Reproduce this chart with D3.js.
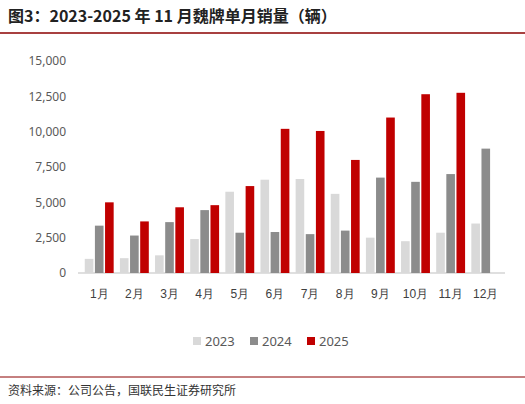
<!DOCTYPE html><html><head><meta charset="utf-8"><script src="https://cdn.jsdelivr.net/npm/d3@7"></script>
<style>body{margin:0;background:#fff;font-family:"Noto Sans CJK SC","Noto Sans",sans-serif}</style></head><body><svg id="c" width="525" height="404"></svg><script>
const categories=["1月","2月","3月","4月","5月","6月","7月","8月","9月","10月","11月","12月"];
const s2023=[1000,1050,1250,2400,5750,6600,6650,5600,2500,2250,2850,3500];
const s2024=[3350,2650,3600,4450,2850,2900,2750,3000,6750,6450,7000,8800];
const s2025=[5000,3650,4650,4800,6150,10200,10050,8000,11000,12650,12750,null];
const seriesNames=["2023","2024","2025"];
const colors=["#d9d9d9","#8c8c8c","#c00000"];
const ticks=[0,2500,5000,7500,10000,12500,15000];
const svg=d3.select("#c");
svg.append("text").attr("x",8).attr("y",22).attr("font-size",16).attr("font-weight","bold").attr("fill","#222").text("图3：2023-2025 年 11 月魏牌单月销量（辆）");
svg.append("line").attr("x1",0).attr("x2",525).attr("y1",33).attr("y2",33).attr("stroke","#8b0000").attr("stroke-width",1.5);
const x=d3.scaleBand().domain(categories).range([82,503]).paddingInner(0.12).paddingOuter(0.05);
const y=d3.scaleLinear().domain([0,15000]).range([273,61]);
const g=svg.append("g");
g.append("g").attr("transform","translate(78,0)").call(d3.axisLeft(y).tickValues(ticks).tickFormat(d3.format(",")).tickSize(0).tickPadding(12))
 .call(a=>a.select(".domain").remove()).selectAll("text").attr("font-size",12).attr("fill","#595959").attr("font-family","Noto Sans, sans-serif");
g.append("line").attr("x1",78).attr("x2",505).attr("y1",y(0)).attr("y2",y(0)).attr("stroke","#bfbfbf");
const xs=d3.scaleBand().domain([0,1,2]).range([0,x.bandwidth()]).paddingInner(0.15).paddingOuter(0.1);
[s2023,s2024,s2025].forEach((s,i)=>{
 g.selectAll(null).data(s.map((v,j)=>({v,c:categories[j]})).filter(d=>d.v!=null)).enter().append("rect")
  .attr("x",d=>x(d.c)+xs(i)).attr("width",xs.bandwidth()).attr("y",d=>y(d.v)).attr("height",d=>y(0)-y(d.v)).attr("fill",colors[i]);
});
g.append("g").attr("transform","translate(0,"+y(0)+")").call(d3.axisBottom(x).tickSize(0).tickPadding(16))
 .call(a=>a.select(".domain").remove()).selectAll("text").attr("font-size",12).attr("fill","#404040");
const lg=svg.append("g");
seriesNames.forEach((n,i)=>{
 const lx=193+i*57;
 lg.append("rect").attr("x",lx).attr("y",337).attr("width",8).attr("height",8).attr("fill",colors[i]);
 lg.append("text").attr("x",lx+12).attr("y",346).attr("font-size",13).attr("fill","#595959").attr("font-family","Noto Sans, sans-serif").text(n);
});
svg.append("line").attr("x1",0).attr("x2",525).attr("y1",377).attr("y2",377).attr("stroke","#8b0000").attr("stroke-width",1);
svg.append("text").attr("x",8).attr("y",395).attr("font-size",12).attr("fill","#333").text("资料来源：公司公告，国联民生证券研究所");
</script></body></html>
